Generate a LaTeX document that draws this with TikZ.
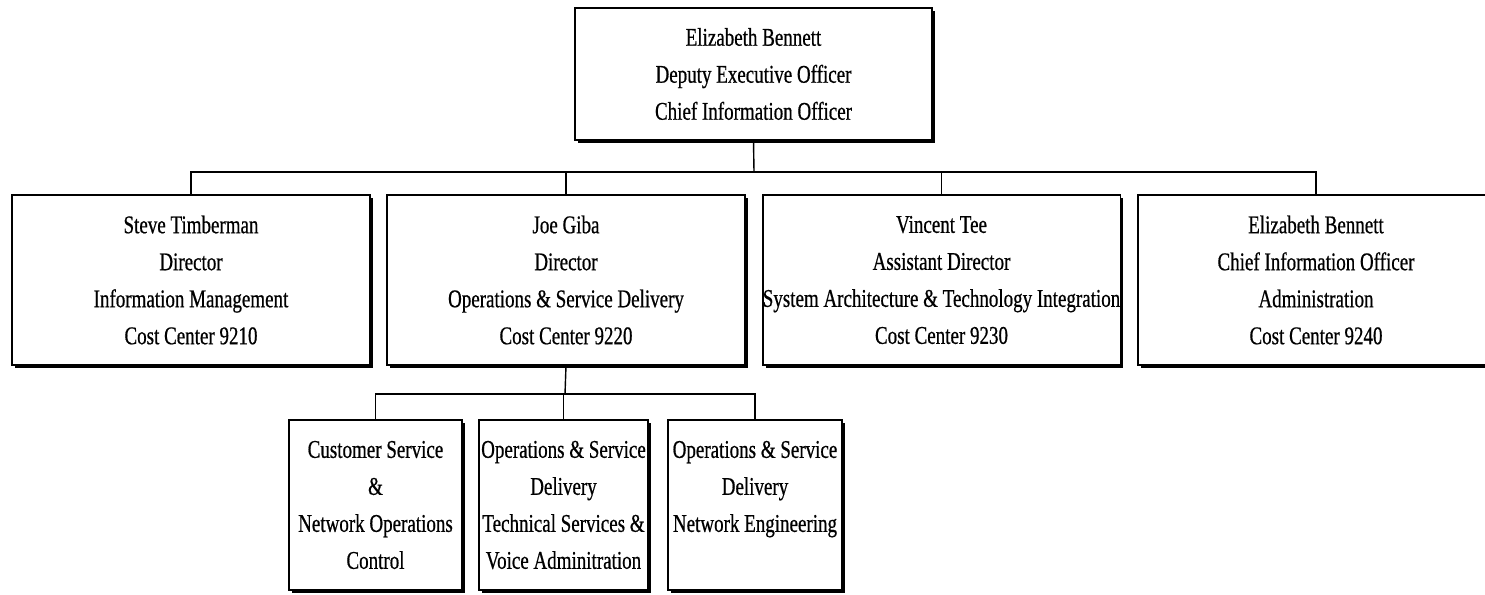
\documentclass[tikz,border=0pt]{standalone}
\usepackage{fontspec}
\setmainfont[FakeStretch=0.745,FakeBold=0.6]{Liberation Serif}
\usetikzlibrary{shadows}
\begin{document}
\begin{tikzpicture}[x=1pt,y=-1pt,
  box/.style={draw=black, line width=1.4pt, fill=white, align=center,
    inner sep=0pt, font=\fontsize{25.5}{37}\selectfont,
    drop shadow={shadow xshift=3pt, shadow yshift=-3pt, fill=black, opacity=1}},
  conn/.style={line width=1.4pt, black}]
\clip (0,0) rectangle (1485,594);
\fill[white] (0,0) rectangle (1485,594);
\node[box, minimum width=357pt, minimum height=132pt] (top) at (753.5,74)
  {Elizabeth Bennett\\Deputy Executive Officer\\Chief Information Officer};
\node[box, minimum width=358pt, minimum height=170pt] (b1) at (191,280)
  {Steve Timberman\\Director\\Information Management\\Cost Center 9210};
\node[box, minimum width=358pt, minimum height=170pt] (b2) at (566,280)
  {Joe Giba\\Director\\Operations \& Service Delivery\\Cost Center 9220};
\node[box, minimum width=357pt, minimum height=170pt] (b3) at (941.5,280)
  {Vincent Tee\\Assistant Director\\System Architecture \& Technology Integration\\Cost Center 9230};
\node[box, minimum width=356pt, minimum height=170pt] (b4) at (1316,280)
  {Elizabeth Bennett\\Chief Information Officer\\Administration\\Cost Center 9240};
\node[box, minimum width=173pt, minimum height=170pt] (c1) at (375.5,505)
  {Customer Service\\\&\\Network Operations\\Control};
\node[box, minimum width=169pt, minimum height=170pt] (c2) at (563.5,505)
  {Operations \& Service\\Delivery\\Technical Services \&\\Voice Adminitration};
\node[box, minimum width=174pt, minimum height=170pt] (c3) at (755,505)
  {Operations \& Service\\Delivery\\Network Engineering\\\phantom{Control}};
\coordinate (bus) at (754,172);
\coordinate (bus2) at (565,394);
\draw[conn] (top.south) -- (bus);
\draw[conn] (b1.north) |- (bus) -| (b4.north);
\draw[conn] (b2.north) -- (b2.north |- bus);
\draw[conn] (b3.north) -- (b3.north |- bus);
\draw[conn] (b2.south) -- (bus2);
\draw[conn] (c1.north) |- (bus2) -| (c3.north);
\draw[conn] (c2.north) -- (c2.north |- bus2);
\end{tikzpicture}
\end{document}
